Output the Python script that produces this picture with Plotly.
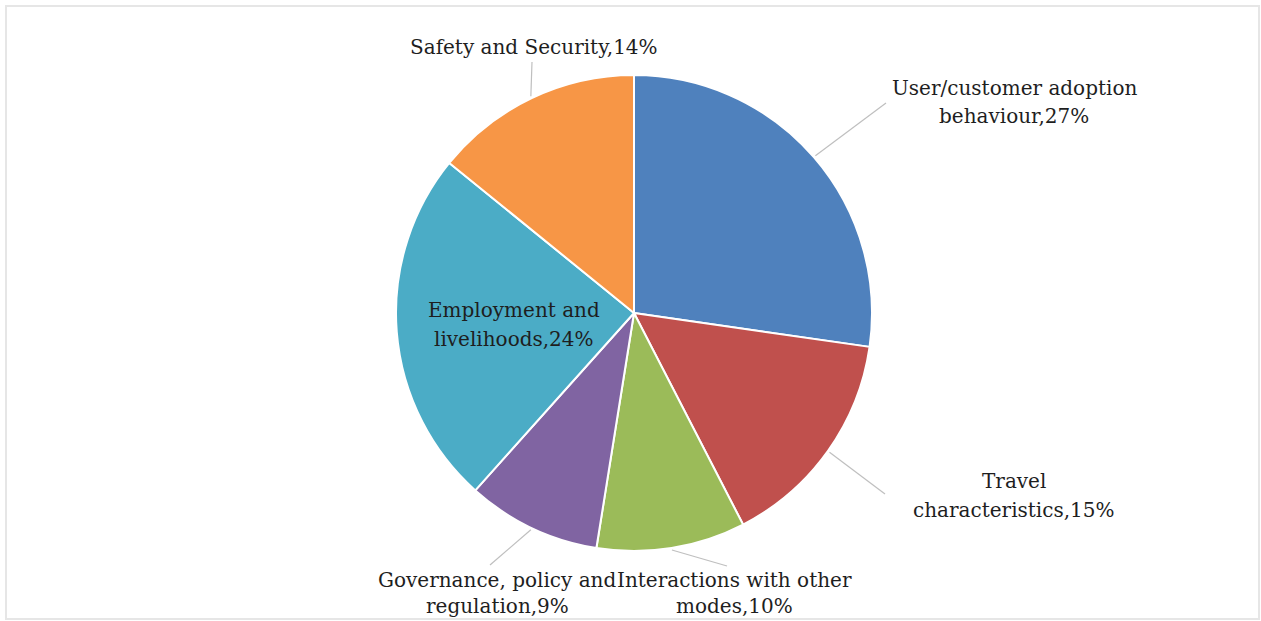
import math
import plotly.graph_objects as go

# ---- data ----
categories = [
    "User/customer adoption behaviour",
    "Travel characteristics",
    "Interactions with other modes",
    "Governance, policy and regulation",
    "Employment and livelihoods",
    "Safety and Security",
]
percentages = [27, 15, 10, 9, 24, 14]
colors = ["#4F81BD", "#C0504D", "#9BBB59", "#8064A2", "#4BACC6", "#F79646"]

# label text split into display lines
label_lines = [
    ["User/customer adoption", "behaviour,27%"],
    ["Travel", "characteristics,15%"],
    ["Interactions with other", "modes,10%"],
    ["Governance, policy and", "regulation,9%"],
    ["Employment and", "livelihoods,24%"],
    ["Safety and Security,14%"],
]

# ---- layout (pixels) ----
W, H = 1261, 621
CX, CY, R = 634, 313, 238
FONT = "DejaVu Serif"
FS = 20
LINE_GAP = 28.5
BOTTOM_GAP = 26
# centre of first label line, per slice
label_pos = [(1014, 88), (1014, 481), (734, 580), (497, 580), (514, 310), (534, 47)]
# outer end of leader line (None = no leader line)
leader_end = [(886, 103), (885, 494), (727, 566), (490, 565), None, (532, 62)]


def px(x):
    return x / W


def py(y):
    return 1 - y / H


fig = go.Figure(
    go.Pie(
        labels=categories,
        values=percentages,
        sort=False,
        direction="clockwise",
        rotation=0,
        marker=dict(colors=colors, line=dict(color="white", width=2)),
        textinfo="none",
        hoverinfo="label+percent",
        showlegend=False,
        domain=dict(x=[px(CX - R), px(CX + R)], y=[py(CY + R), py(CY - R)]),
    )
)

total = sum(percentages)
cum = 0
shapes = []
annotations = []
for i, v in enumerate(percentages):
    mid = (cum + v / 2) / total * 2 * math.pi
    cum += v
    ex = CX + (R + 2) * math.sin(mid)
    ey = CY - (R + 2) * math.cos(mid)
    if leader_end[i] is not None:
        lx, ly = leader_end[i]
        shapes.append(dict(type="line", xref="paper", yref="paper",
                           x0=px(ex), y0=py(ey), x1=px(lx), y1=py(ly),
                           line=dict(color="#BFBFBF", width=1.2)))
    tx, ty = label_pos[i]
    gap = BOTTOM_GAP if ty > 560 else LINE_GAP
    for k, line in enumerate(label_lines[i]):
        annotations.append(dict(
            x=px(tx), y=py(ty + k * gap), xref="paper", yref="paper",
            text=line, showarrow=False, xanchor="center", yanchor="middle",
            font=dict(family=FONT, size=FS, color="#1E1E1E"),
        ))

# outer frame
shapes.append(dict(type="rect", xref="paper", yref="paper",
                   x0=px(6), y0=py(619), x1=px(1259), y1=py(6),
                   line=dict(color="#E6E6E6", width=2)))

fig.update_layout(
    width=W, height=H,
    margin=dict(l=0, r=0, t=0, b=0),
    paper_bgcolor="white", plot_bgcolor="white",
    shapes=shapes, annotations=annotations,
)

fig.write_html("out.html")
